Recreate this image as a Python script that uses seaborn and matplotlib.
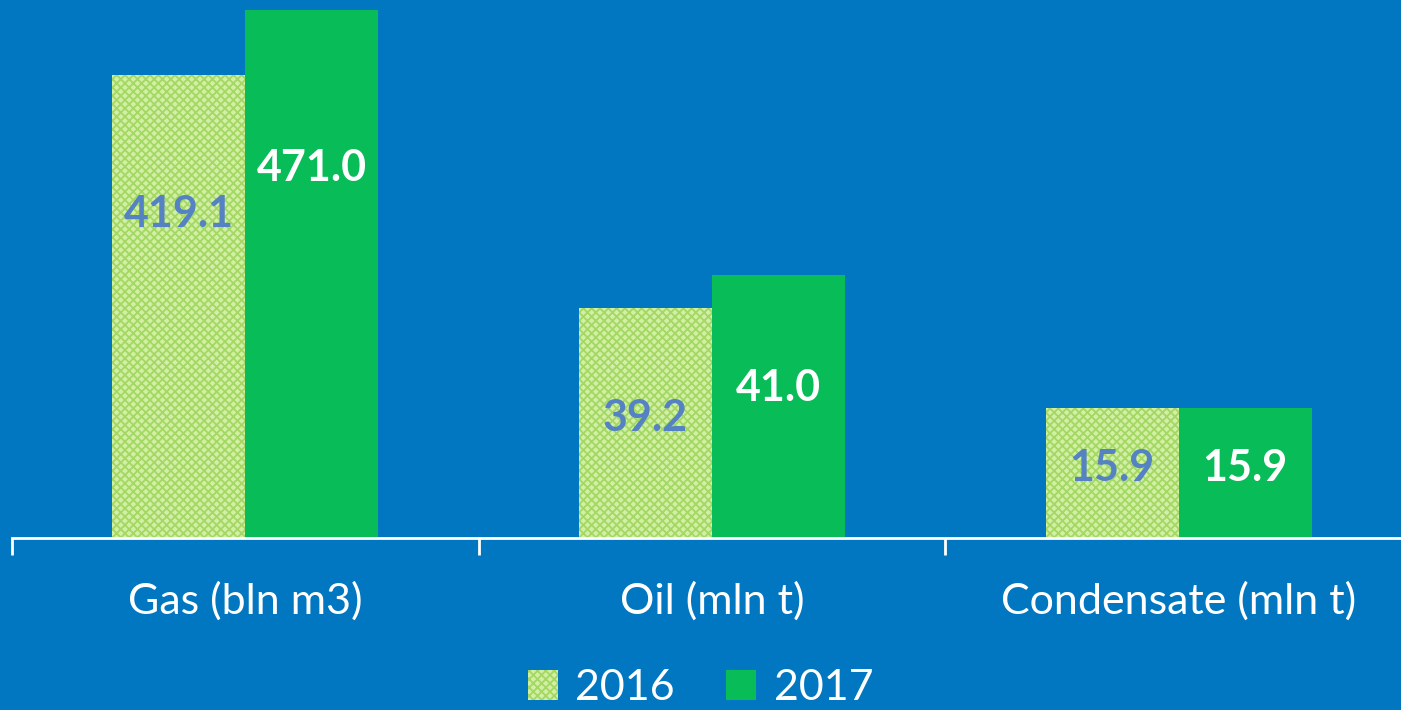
import pandas as pd
import seaborn as sns
import matplotlib.pyplot as plt
from matplotlib.patches import Patch

# data
categories = ["Gas (bln m3)", "Oil (mln t)", "Condensate (mln t)"]
years = ["2016", "2017"]
values_2016 = [419.1, 39.2, 15.9]
values_2017 = [471.0, 41.0, 15.9]
# bar lengths as drawn (each product on its own scale in the original)
bars_2016 = [463, 230, 130]
bars_2017 = [528, 263, 130]
# where the labels sit, as a share of the bar length
label_pos_2016 = [0.70, 0.52, 0.54]
label_pos_2017 = [0.70, 0.57, 0.54]

bg = "#0077C0"
green = "#08BC57"
light = "#D2EFA6"
hatch_col = "#A3D862"

data = pd.DataFrame({
    "cat": categories * 2,
    "year": [years[0]] * 3 + [years[1]] * 3,
    "bar": bars_2016 + bars_2017,
})

sns.set_style("white")
plt.rcParams["font.family"] = ["Lato", "DejaVu Sans"]
plt.rcParams["hatch.linewidth"] = 1.3

fig = plt.figure(figsize=(14.01, 7.10), dpi=100, facecolor=bg)
ax = fig.add_axes([12 / 1401, 172 / 710, 1400 / 1401, 538 / 710])
ax.set_facecolor(bg)

sns.barplot(data=data, x="cat", y="bar", hue="year", palette=[light, green],
            width=0.57, saturation=1, ax=ax, legend=False)

for p in ax.containers[0]:
    p.set_hatch("xxxx")
    p.set_edgecolor(hatch_col)
    p.set_linewidth(0)
for p in ax.containers[1]:
    p.set_linewidth(0)

ax.set_xlim(-0.5, 2.5)
ax.set_ylim(0, 538)

# value labels
for cont, vals, pos, col in [(ax.containers[0], values_2016, label_pos_2016, "#5582C2"),
                             (ax.containers[1], values_2017, label_pos_2017, "white")]:
    for p, v, f in zip(cont, vals, pos):
        ax.text(p.get_x() + p.get_width() / 2, p.get_height() * f, f"{v:.1f}",
                ha="center", va="center", fontsize=31, fontweight="bold", color=col)

sns.despine(ax=ax, left=True)
ax.spines["bottom"].set_color("white")
ax.spines["bottom"].set_linewidth(2)
ax.set_yticks([])
ax.set_xticks([-0.5, 0.5, 1.5, 2.5], minor=True)
ax.set_xticks([0, 1, 2])
ax.set_xticklabels(categories)
ax.tick_params(axis="x", which="major", bottom=False, length=0, pad=31, labelsize=31,
               labelcolor="white")
ax.tick_params(axis="x", which="minor", bottom=True, length=12, width=2, color="white",
               direction="out")
ax.set_xlabel("")
ax.set_ylabel("")

handles = [Patch(facecolor=light, edgecolor=hatch_col, hatch="xxxx", linewidth=0),
           Patch(facecolor=green, linewidth=0)]
fig.legend(handles, years, loc="center", bbox_to_anchor=(0.5, 22 / 710), ncol=2,
           frameon=False, fontsize=31, labelcolor="white", handlelength=0.7,
           handleheight=0.7, handletextpad=0.4, columnspacing=1.2)

plt.savefig("out.png", dpi=100, facecolor=bg)
